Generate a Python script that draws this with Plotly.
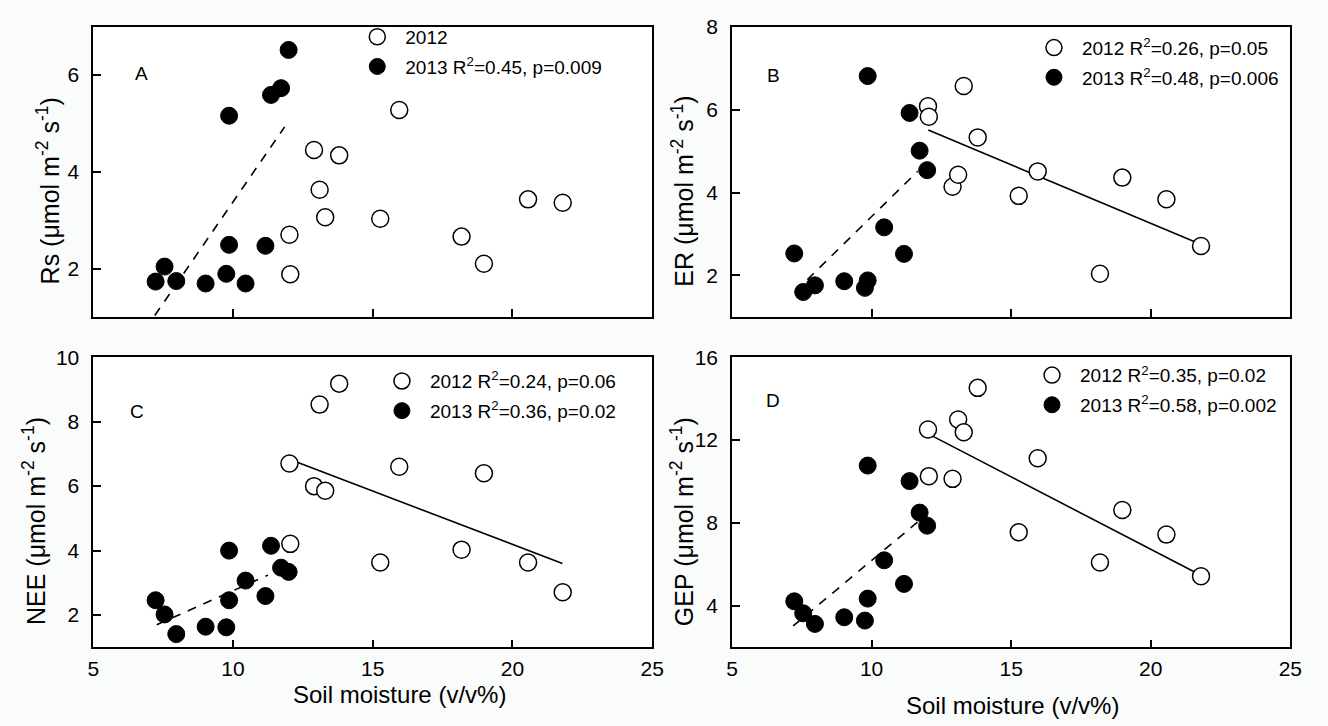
import plotly.graph_objects as go

W, H = 1328, 726

# ---------------- data ----------------
# soil moisture (v/v %) for each campaign
sm_2012 = [12.02, 12.05, 12.9, 13.1, 13.3, 13.8, 15.27, 15.95, 18.18, 18.98, 20.56, 21.8]
sm_2013 = [7.23, 7.55, 7.97, 9.02, 9.76, 9.86, 9.86, 10.45, 11.16, 11.36, 11.72, 11.99]

# A: soil respiration
rs_2012 = [2.70, 1.88, 4.45, 3.63, 3.06, 4.34, 3.03, 5.28, 2.66, 2.10, 3.43, 3.36]
rs_2013 = [1.73, 2.04, 1.74, 1.69, 1.89, 2.49, 5.16, 1.69, 2.47, 5.59, 5.73, 6.52]
# B: ecosystem respiration
er_2012 = [6.08, 5.83, 4.14, 4.43, 6.57, 5.33, 3.92, 4.51, 2.04, 4.36, 3.84, 2.71]
er_2013 = [2.53, 1.60, 1.76, 1.86, 1.70, 1.88, 6.81, 3.16, 2.52, 5.92, 5.01, 4.54]
# C: net ecosystem exchange
nee_2012 = [6.70, 4.21, 6.00, 8.53, 5.86, 9.18, 3.63, 6.60, 4.03, 6.40, 3.63, 2.71]
nee_2013 = [2.46, 2.02, 1.41, 1.64, 1.62, 2.46, 4.00, 3.07, 2.59, 4.15, 3.47, 3.34]
# D: gross ecosystem productivity
gep_2012 = [12.51, 10.26, 10.13, 12.99, 12.38, 14.52, 7.55, 11.12, 6.09, 8.63, 7.44, 5.43]
gep_2013 = [4.22, 3.64, 3.13, 3.45, 3.29, 4.35, 10.77, 6.20, 5.06, 10.02, 8.50, 7.87]

# regression lines (end points)
fitA_2013_x, fitA_2013_y = [7.2, 11.85], [1.03, 4.93]
fitB_2013_x, fitB_2013_y = [7.7, 11.65], [1.90, 4.51]
fitB_2012_x, fitB_2012_y = [12.03, 21.83], [5.51, 2.74]
fitC_2013_x, fitC_2013_y = [7.27, 11.25], [1.70, 3.24]
fitC_2012_x, fitC_2012_y = [12.04, 21.79], [6.83, 3.60]
fitD_2013_x, fitD_2013_y = [7.19, 11.74], [3.03, 8.15]
fitD_2012_x, fitD_2012_y = [12.03, 21.83], [12.30, 5.45]

# legend labels
legA = ["2012", "2013 R<sup>2</sup>=0.45, p=0.009"]
legB = ["2012 R<sup>2</sup>=0.26, p=0.05", "2013 R<sup>2</sup>=0.48, p=0.006"]
legC = ["2012 R<sup>2</sup>=0.24, p=0.06", "2013 R<sup>2</sup>=0.36, p=0.02"]
legD = ["2012 R<sup>2</sup>=0.35, p=0.02", "2013 R<sup>2</sup>=0.58, p=0.002"]

ytitles = ["Rs", "ER", "NEE", "GEP"]
panel_letters = ["A", "B", "C", "D"]
x_tickvals = [5, 10, 15, 20, 25]
y_ranges = [[1, 7], [1, 8], [1, 10], [2, 16]]
y_tickvals = [[2, 4, 6], [2, 4, 6, 8], [2, 4, 6, 8, 10], [4, 8, 12, 16]]

# ---------------- layout helpers ----------------
FONT = "Liberation Sans, Arial, sans-serif"


def px_x(p):
    return p / W


def px_y(p):
    return 1 - p / H


# plot boxes in pixels: (left, right, top, bottom)
boxes = [(88.5, 655, 15, 310), (736, 1302, 15, 310),
         (88.5, 655, 351, 646), (736, 1302, 351, 646)]
# legend anchor (left, top) in pixels
leg_pos = [(348, 6), (1034, 17), (373, 356), (1032, 350)]
letter_pos = [(137, 63), (778, 65), (133, 406), (778, 395)]
ytitle_pos = [(43, 182), (686, 182), (29, 518), (686, 518)]
xtitle_pos = [(399, 694), (1020, 705)]

panels = [
    (rs_2012, rs_2013, None, (fitA_2013_x, fitA_2013_y), legA),
    (er_2012, er_2013, (fitB_2012_x, fitB_2012_y), (fitB_2013_x, fitB_2013_y), legB),
    (nee_2012, nee_2013, (fitC_2012_x, fitC_2012_y), (fitC_2013_x, fitC_2013_y), legC),
    (gep_2012, gep_2013, (fitD_2012_x, fitD_2012_y), (fitD_2013_x, fitD_2013_y), legD),
]

fig = go.Figure()
layout = dict(
    width=W, height=H,
    margin=dict(l=0, r=0, t=0, b=0),
    paper_bgcolor="#fafbfb",
    plot_bgcolor="#ffffff",
    font=dict(family=FONT, color="black", size=19),
    showlegend=True,
    annotations=[],
)

for i, (y12, y13, fit12, fit13, leg) in enumerate(panels):
    n = "" if i == 0 else str(i + 1)
    xa, ya = "x" + n, "y" + n
    legname = "legend" + n
    l, r, t, b = boxes[i]

    if fit12 is not None:
        fig.add_trace(go.Scatter(
            x=fit12[0], y=fit12[1], mode="lines", xaxis=xa, yaxis=ya,
            line=dict(color="black", width=1.6), showlegend=False, hoverinfo="skip"))
    fig.add_trace(go.Scatter(
        x=fit13[0], y=fit13[1], mode="lines", xaxis=xa, yaxis=ya,
        line=dict(color="black", width=1.6, dash="9px,8px"), showlegend=False,
        hoverinfo="skip"))

    fig.add_trace(go.Scatter(
        x=sm_2012, y=y12, mode="markers", xaxis=xa, yaxis=ya, name=leg[0],
        legend=legname, legendgroup=f"g12_{i}",
        marker=dict(symbol="circle", size=17, color="white",
                    line=dict(color="black", width=1.5))))
    fig.add_trace(go.Scatter(
        x=sm_2013, y=y13, mode="markers", xaxis=xa, yaxis=ya, name=leg[1],
        legend=legname, legendgroup=f"g13_{i}",
        marker=dict(symbol="circle", size=17, color="black",
                    line=dict(color="black", width=1))))

    axis_common = dict(
        showline=True, linecolor="black", linewidth=1.6, mirror=True,
        ticks="inside", ticklen=8, tickwidth=1.6, tickcolor="black",
        showgrid=False, zeroline=False,
        tickfont=dict(family=FONT, size=21, color="black"),
    )
    layout["xaxis" + n] = dict(
        axis_common, domain=[px_x(l), px_x(r)], range=[5, 25],
        tickvals=x_tickvals, anchor=ya,
        showticklabels=(i >= 2), ticklabelstandoff=2,
    )
    layout["yaxis" + n] = dict(
        axis_common, domain=[px_y(b), px_y(t)], range=y_ranges[i],
        tickvals=y_tickvals[i], anchor=xa, ticklabelstandoff=8,
    )

    lx, ly = leg_pos[i]
    layout[legname] = dict(
        x=px_x(lx), y=px_y(ly), xanchor="left", yanchor="top",
        bgcolor="rgba(0,0,0,0)", borderwidth=0, itemwidth=46,
        traceorder="grouped", tracegroupgap=2,
        font=dict(family=FONT, size=19, color="black"),
    )

    ax, ay = letter_pos[i]
    layout["annotations"].append(dict(
        text=panel_letters[i], x=px_x(ax), y=px_y(ay), xref="paper", yref="paper",
        showarrow=False, xanchor="center", yanchor="middle",
        font=dict(family=FONT, size=19, color="black")))

    tx, ty = ytitle_pos[i]
    layout["annotations"].append(dict(
        text=f"{ytitles[i]} (μmol m<sup>-2</sup> s<sup>-1</sup>)",
        x=px_x(tx), y=px_y(ty), xref="paper", yref="paper", textangle=-90,
        showarrow=False, xanchor="center", yanchor="middle",
        font=dict(family=FONT, size=25, color="black")))

for (tx, ty) in xtitle_pos:
    layout["annotations"].append(dict(
        text="Soil moisture (v/v%)", x=px_x(tx), y=px_y(ty),
        xref="paper", yref="paper", showarrow=False,
        xanchor="center", yanchor="middle",
        font=dict(family=FONT, size=24, color="black")))

fig.update_layout(**layout)
fig.write_html("out.html")
